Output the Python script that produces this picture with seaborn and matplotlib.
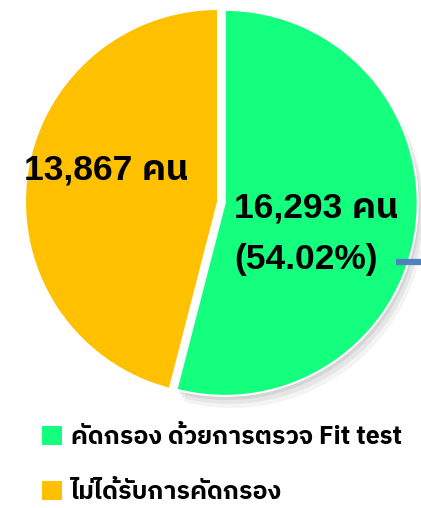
import matplotlib
matplotlib.use("Agg")
import matplotlib.pyplot as plt
import matplotlib.patches as mpatches
import seaborn as sns

# ข้อมูล
categories = ["คัดกรอง ด้วยการตรวจ Fit test", "ไม่ได้รับการคัดกรอง"]
counts = [16293, 13867]
colors = ["#14FF7E", "#FFC000"]

sns.set_theme(style="white")
plt.rcParams["font.family"] = ["Liberation Sans", "IBM Plex Sans Thai", "DejaVu Sans"]
plt.rcParams["font.weight"] = "bold"
plt.rcParams["text.color"] = "black"

W, H = 421, 508
fig = plt.figure(figsize=(W / 100, H / 100), dpi=100)
ax = fig.add_axes([0, 0, 1, 1])

# รัศมี 1 = 193 px, ศูนย์กลางที่ (218, 202) จากมุมซ้ายบน
r_px, cx, cy = 193, 218, 202
wedges, _ = ax.pie(
    counts,
    colors=colors,
    startangle=90,
    counterclock=False,
    explode=[0.035, 0],
    wedgeprops=dict(edgecolor="white", linewidth=1.5),
)

# เงาเฉพาะชิ้นสีเขียว
for k, a in [(0.045, 0.06), (0.03, 0.08), (0.015, 0.1)]:
    sh = mpatches.Shadow(wedges[0], k * 0.6, -k, alpha=a, facecolor="#444444", edgecolor="none")
    sh.set_zorder(wedges[0].get_zorder() - 1)
    ax.add_patch(sh)

ax.set_xlim(-cx / r_px, (W - cx) / r_px)
ax.set_ylim(-(H - cy) / r_px, cy / r_px)
ax.set_aspect("auto")
ax.axis("off")

total = sum(counts)
pct = counts[0] / total * 100

def px(x, y):
    return ((x - cx) / r_px, (cy - y) / r_px)

lbl = dict(fontsize=25.5, fontweight="bold", ha="left", va="center", color="black")
ax.text(*px(24, 170), f"{counts[1]:,} คน", **lbl)
ax.text(*px(234, 208), f"{counts[0]:,} คน", **lbl)
ax.text(*px(234, 260), f"({pct:.2f}%)", **lbl)

# เส้นชี้สีน้ำเงิน (ถูกตัดที่ขอบขวา)
ax.plot([px(396, 262)[0], px(430, 262)[0]], [px(396, 262)[1]] * 2,
        color="#4F81BD", linewidth=4.5, solid_capstyle="butt", clip_on=False)

handles = [mpatches.Patch(facecolor=c, edgecolor="none") for c in colors]
leg = fig.legend(
    handles, categories,
    loc="upper left", bbox_to_anchor=(42 / W, 1 - 425 / H),
    frameon=False,
    prop=dict(family=["IBM Plex Sans Thai"], weight="bold", size=18),
    handlelength=0.8, handleheight=0.8, handletextpad=0.35,
    labelspacing=1.25, borderpad=0, borderaxespad=0,
)
for t in leg.get_texts():
    t.set_color("black")

fig.savefig("out.png", dpi=100)
